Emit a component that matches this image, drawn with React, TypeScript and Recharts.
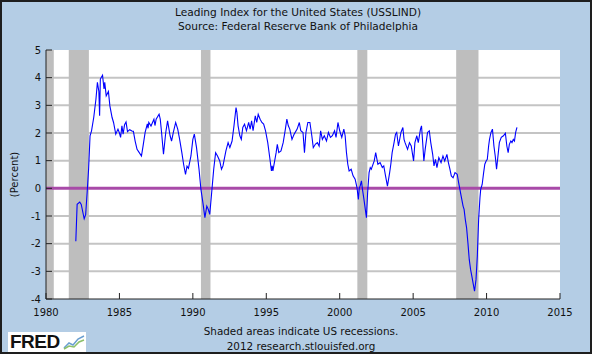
import React from 'react'
import {
  LineChart,
  Line,
  XAxis,
  YAxis,
  CartesianGrid,
  ReferenceArea,
  ReferenceLine,
} from 'recharts'

// USSLIND (decimal year, percent)
const lindDates = [
  1982.03, 1982.12, 1982.3, 1982.4, 1982.6, 1982.7, 1982.8, 1982.9, 1983.0, 1983.1,
  1983.25, 1983.4, 1983.5, 1983.6, 1983.65, 1983.7, 1983.85, 1983.95, 1984.0, 1984.1,
  1984.25, 1984.35, 1984.5, 1984.6, 1984.75, 1984.9, 1985.0, 1985.08, 1985.17, 1985.25,
  1985.35, 1985.45, 1985.55, 1985.7, 1985.85, 1985.95, 1986.07, 1986.2, 1986.35, 1986.5,
  1986.6, 1986.75, 1986.9, 1986.95, 1987.0, 1987.15, 1987.35, 1987.42, 1987.5, 1987.7,
  1987.78, 1987.87, 1988.0, 1988.15, 1988.28, 1988.45, 1988.55, 1988.67, 1988.83, 1988.97,
  1989.1, 1989.25, 1989.37, 1989.5, 1989.6, 1989.7, 1989.87, 1990.0, 1990.1, 1990.25,
  1990.42, 1990.55, 1990.7, 1990.82, 1990.95, 1991.05, 1991.15, 1991.28, 1991.42, 1991.55,
  1991.68, 1991.83, 1991.95, 1992.05, 1992.25, 1992.4, 1992.52, 1992.67, 1992.8, 1992.94,
  1993.0, 1993.08, 1993.2, 1993.3, 1993.4, 1993.52, 1993.65, 1993.8, 1993.9, 1994.0,
  1994.1, 1994.25, 1994.35, 1994.45, 1994.58, 1994.7, 1994.82, 1994.95, 1995.1, 1995.25,
  1995.35, 1995.4, 1995.45, 1995.67, 1995.75, 1995.85, 1996.0, 1996.15, 1996.3, 1996.4,
  1996.5, 1996.6, 1996.75, 1996.9, 1997.1, 1997.25, 1997.35, 1997.5, 1997.6, 1997.7,
  1997.83, 1997.97, 1998.1, 1998.2, 1998.35, 1998.48, 1998.6, 1998.7, 1998.82, 1998.95,
  1999.1, 1999.23, 1999.37, 1999.5, 1999.65, 1999.75, 1999.88, 2000.0, 2000.14, 2000.28,
  2000.37, 2000.46, 2000.55, 2000.64, 2000.78, 2000.91, 2001.05, 2001.18, 2001.27, 2001.33,
  2001.4, 2001.48, 2001.55, 2001.65, 2001.82, 2001.9, 2002.0, 2002.08, 2002.15, 2002.35,
  2002.45, 2002.6, 2002.75, 2002.9, 2003.0, 2003.12, 2003.25, 2003.4, 2003.48, 2003.57,
  2003.7, 2003.8, 2003.88, 2004.0, 2004.17, 2004.3, 2004.38, 2004.45, 2004.62, 2004.75,
  2004.87, 2005.03, 2005.12, 2005.25, 2005.35, 2005.5, 2005.57, 2005.65, 2005.73, 2005.82,
  2005.98, 2006.1, 2006.2, 2006.33, 2006.42, 2006.52, 2006.62, 2006.75, 2006.9, 2007.03,
  2007.15, 2007.3, 2007.4, 2007.5, 2007.6, 2007.72, 2007.85, 2008.0, 2008.1, 2008.27,
  2008.4, 2008.47, 2008.55, 2008.64, 2008.73, 2008.82, 2008.91, 2009.0, 2009.1, 2009.18,
  2009.28, 2009.37, 2009.46, 2009.55, 2009.6, 2009.7, 2009.8, 2009.88, 2009.97, 2010.05,
  2010.14, 2010.2, 2010.3, 2010.4, 2010.5, 2010.59, 2010.68, 2010.8, 2010.87, 2011.0,
  2011.15, 2011.28, 2011.38, 2011.47, 2011.55, 2011.65, 2011.73, 2011.82, 2011.9, 2011.98,
  2012.07,
]

const lindValues = [
  -1.91, -0.58, -0.5, -0.58, -1.1, -0.95, -0.16, 0.69, 1.9, 2.08,
  2.56, 3.22, 3.83, 3.5, 2.62, 3.95, 4.09, 3.59, 3.83, 3.34,
  3.5, 2.98, 2.56, 2.38, 1.96, 2.14, 2.0, 1.84, 2.26, 1.96,
  2.3, 2.4, 2.05, 2.12, 2.07, 2.06, 1.71, 1.41, 1.29, 1.17,
  1.5, 2.02, 2.33, 2.17, 2.38, 2.25, 2.5, 2.27, 2.5, 2.68,
  2.5, 2.02, 1.23, 2.0, 2.44, 1.9, 1.71, 2.02, 2.38, 2.14,
  1.77, 1.29, 0.87, 0.5, 0.8, 0.72, 1.17, 1.77, 1.96, 1.47,
  0.69, -0.04, -0.58, -1.06, -0.64, -0.76, -0.94, -0.16, 0.69, 1.29,
  1.17, 0.99, 0.69, 0.81, 1.35, 1.65, 1.47, 1.71, 2.26, 2.92,
  2.74, 2.26, 1.9, 1.77, 2.2, 2.32, 2.08, 2.38, 2.14, 2.44,
  2.08, 2.62, 2.38, 2.68, 2.5, 2.38, 2.32, 2.08, 1.65, 1.05,
  0.63, 0.81, 0.63, 1.29, 1.59, 1.29, 1.35, 1.65, 2.14, 2.5,
  2.26, 2.14, 1.77, 1.96, 2.14, 2.38, 2.08, 2.02, 1.29, 2.02,
  2.38, 2.38, 1.9, 1.47, 1.6, 1.65, 1.53, 2.08, 1.77, 1.9,
  1.71, 2.02, 1.84, 1.9, 2.08, 1.84, 2.38, 2.08, 1.84, 2.14,
  1.9, 1.29, 0.87, 0.63, 0.69, 0.45, 0.33, 0.02, -0.4, 0.0,
  0.1, 0.27, -0.04, -0.4, -1.06, -0.16, 0.57, 0.75, 0.69, 0.99,
  1.29, 0.87, 0.93, 0.75, 0.81, 0.45, 0.08, 0.57, 0.87, 1.29,
  1.65, 1.96, 2.02, 1.53, 2.02, 2.2, 1.77, 1.65, 1.41, 1.65,
  1.53, 0.99, 1.65, 1.9, 1.65, 2.14, 2.26, 1.65, 0.99, 1.41,
  2.02, 2.08, 1.65, 1.23, 0.81, 1.05, 0.75, 1.11, 0.93, 1.17,
  0.99, 1.23, 0.93, 0.7, 0.45, 0.38, 0.57, 0.51, 0.2, -0.28,
  -0.64, -0.76, -1.12, -1.43, -1.97, -2.57, -2.93, -3.18, -3.48, -3.72,
  -3.3, -2.45, -1.12, -0.34, -0.04, 0.14, 0.57, 0.87, 0.99, 1.05,
  1.53, 1.77, 2.02, 2.14, 1.53, 1.17, 0.69, 1.29, 1.65, 1.84,
  1.9, 1.99, 1.53, 1.29, 1.59, 1.71, 1.65, 1.77, 1.71, 2.02,
  2.2,
]

// US recessions (start, end) as decimal years
const recessionStarts = [1980.0, 1981.55, 1990.55, 2001.2, 2007.93]
const recessionEnds = [1980.53, 1982.92, 1991.2, 2001.88, 2009.45]

const xTicks = [1980, 1985, 1990, 1995, 2000, 2005, 2010, 2015]
const yTicks = [-4, -3, -2, -1, 0, 1, 2, 3, 4, 5]

const data = lindDates.map((t, i) => ({ t, v: lindValues[i] }))

const FONT = '"DejaVu Sans", Verdana, sans-serif'
const BG = '#B4CDE5'

const FredLogo = () => (
  <div
    style={{
      position: 'absolute',
      left: 8,
      top: 332,
      width: 78,
      height: 20,
      background: '#fff',
      display: 'flex',
      alignItems: 'center',
    }}
  >
    <span
      style={{
        fontFamily: '"Liberation Sans", Arial, sans-serif',
        fontWeight: 'bold',
        fontSize: 19,
        color: '#111',
        letterSpacing: -0.5,
        marginLeft: 2,
      }}
    >
      FRED
    </span>
    <svg width="22" height="16" style={{ marginLeft: 3 }}>
      <polyline points="1,14 6,9 10,11 15,5 21,2" fill="none" stroke="#6a9fd0" strokeWidth="1.5" />
      <polyline points="1,15 6,12 11,13 16,8 21,6" fill="none" stroke="#8cc06a" strokeWidth="1.5" />
    </svg>
  </div>
)

export default function App() {
  return (
    <div
      style={{
        position: 'absolute',
        left: 0,
        top: 0,
        width: 595,
        height: 354,
        background: '#fff',
        overflow: 'hidden',
      }}
    >
      <div
        style={{
          position: 'absolute',
          left: 0,
          top: 0,
          width: 592,
          height: 354,
          background: BG,
          boxSizing: 'border-box',
          border: '2px solid #1e1e1e',
        }}
      />
      <div
        style={{
          position: 'absolute',
          left: 0,
          top: 5,
          width: 596,
          textAlign: 'center',
          fontFamily: FONT,
          fontSize: 10.6,
          lineHeight: '14px',
          color: '#111',
        }}
      >
        <div>Leading Index for the United States (USSLIND)</div>
        <div>Source: Federal Reserve Bank of Philadelphia</div>
      </div>
      <div
        style={{
          position: 'absolute',
          left: 0,
          top: 324,
          width: 602,
          textAlign: 'center',
          fontFamily: FONT,
          fontSize: 10.4,
          lineHeight: '15px',
          color: '#111',
        }}
      >
        <div>Shaded areas indicate US recessions.</div>
        <div>2012 research.stlouisfed.org</div>
      </div>
      <FredLogo />
      <div style={{ position: 'absolute', left: 0, top: 0 }}>
        <LineChart
          width={595}
          height={354}
          data={data}
          margin={{ top: 50, right: 35, left: 6, bottom: 35 }}
        >
          <CartesianGrid
            vertical={false}
            horizontal
            stroke="#C4C4C4"
            strokeWidth={2}
            fill="#ffffff"
            horizontalValues={[-3, -2, -1, 1, 2, 3, 4]}
          />
          {recessionStarts.map((s, i) => (
            <ReferenceArea
              key={s}
              x1={s}
              x2={recessionEnds[i]}
              y1={-4}
              y2={5}
              fill="#BEBEBE"
              fillOpacity={1}
              stroke="none"
              ifOverflow="hidden"
            />
          ))}
          <XAxis
            dataKey="t"
            type="number"
            domain={[1980, 2015]}
            ticks={xTicks}
            allowDataOverflow
            height={20}
            tickSize={-6}
            tickMargin={16}
            stroke="#222"
            tick={{ fill: '#111', fontSize: 10, fontFamily: FONT }}
          />
          <YAxis
            type="number"
            domain={[-4, 5]}
            ticks={yTicks}
            allowDataOverflow
            width={40}
            tickSize={-6}
            tickMargin={11}
            stroke="#222"
            tick={{ fill: '#111', fontSize: 10, fontFamily: FONT }}
            label={{
              value: '(Percent)',
              angle: -90,
              position: 'insideLeft',
              offset: 8,
              style: { fill: '#111', fontSize: 10, fontFamily: FONT, textAnchor: 'middle' },
            }}
          />
          <ReferenceLine y={0} stroke="#A84AA8" strokeWidth={3} />
          <Line
            type="linear"
            dataKey="v"
            stroke="#0000FF"
            strokeWidth={1.1}
            dot={false}
            isAnimationActive={false}
          />
        </LineChart>
      </div>
    </div>
  )
}
